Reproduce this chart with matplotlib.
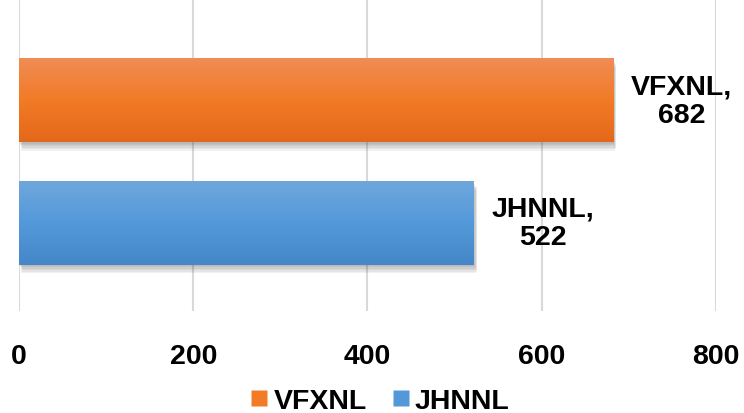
import numpy as np
import matplotlib
matplotlib.use("Agg")
import matplotlib.pyplot as plt
from matplotlib.colors import LinearSegmentedColormap
from matplotlib.lines import Line2D
import matplotlib.patheffects as pe

categories = ["JHNNL", "VFXNL"]
values = [522, 682]
xticks = [0, 200, 400, 600, 800]

grad = {
    "VFXNL": ["#F08C55", "#F27B26", "#E4681A"],
    "JHNNL": ["#6FA7DC", "#5399DA", "#4587C8"],
}

plt.rcParams['font.family'] = ['Liberation Sans', 'DejaVu Sans']
plt.rcParams['font.weight'] = 'bold'

fig = plt.figure(figsize=(7.44, 4.14), dpi=100)
ax = fig.add_axes([19/744, 1 - 312/414, (716 - 19)/744, 312/414])

ypos = np.arange(len(categories))
shadow = [pe.SimplePatchShadow(offset=(dx, dy), shadow_rgbFace='#404040', alpha=0.07)
          for dx, dy in [(0.5, -1), (1, -2), (1.5, -3), (2, -4), (2, -5), (1.5, -6)]]
bars = ax.barh(ypos, values, height=0.68, color=[grad[c][1] for c in categories],
               zorder=2, path_effects=shadow + [pe.Normal()])

for c, b in zip(categories, bars):
    cmap = LinearSegmentedColormap.from_list(c, grad[c])
    g = np.linspace(0, 1, 100).reshape(-1, 1)
    x0, y0, w, h = b.get_x(), b.get_y(), b.get_width(), b.get_height()
    ax.imshow(g, cmap=cmap, aspect='auto', extent=[x0, x0 + w, y0, y0 + h],
              origin='upper', zorder=3, interpolation='bicubic')

for c, v, y in zip(categories, values, ypos):
    ax.annotate(f"{c},\n{v}", xy=(v, y), xytext=(13, 0), textcoords='offset points',
                ha='left', va='center', multialignment='center',
                fontsize=20.5, fontweight='bold', color='black', zorder=4,
                linespacing=1.12)

ax.set_xlim(0, 800)
ax.set_ylim(-0.718, 1.829)
ax.set_xticks(xticks)
ax.set_xticklabels([str(t) for t in xticks], fontsize=20.5, fontweight='bold')
ax.set_yticks([])
ax.tick_params(axis='x', length=0, pad=23)
ax.grid(axis='x', color='#D9D9D9', linewidth=1.5, zorder=0)
ax.set_axisbelow(True)
for s in ax.spines.values():
    s.set_visible(False)

handles = [Line2D([], [], marker='s', linestyle='none', markersize=11,
                  markerfacecolor=grad[c][1], markeredgecolor='none') for c in ["VFXNL", "JHNNL"]]
fig.legend(handles, ["VFXNL", "JHNNL"], loc='center', bbox_to_anchor=(0.511, 0.028),
           ncol=2, frameon=False, handletextpad=0.2, columnspacing=0.9,
           handlelength=0.6, prop={'weight': 'bold', 'size': 20.5})

fig.savefig("out.png", dpi=100)
